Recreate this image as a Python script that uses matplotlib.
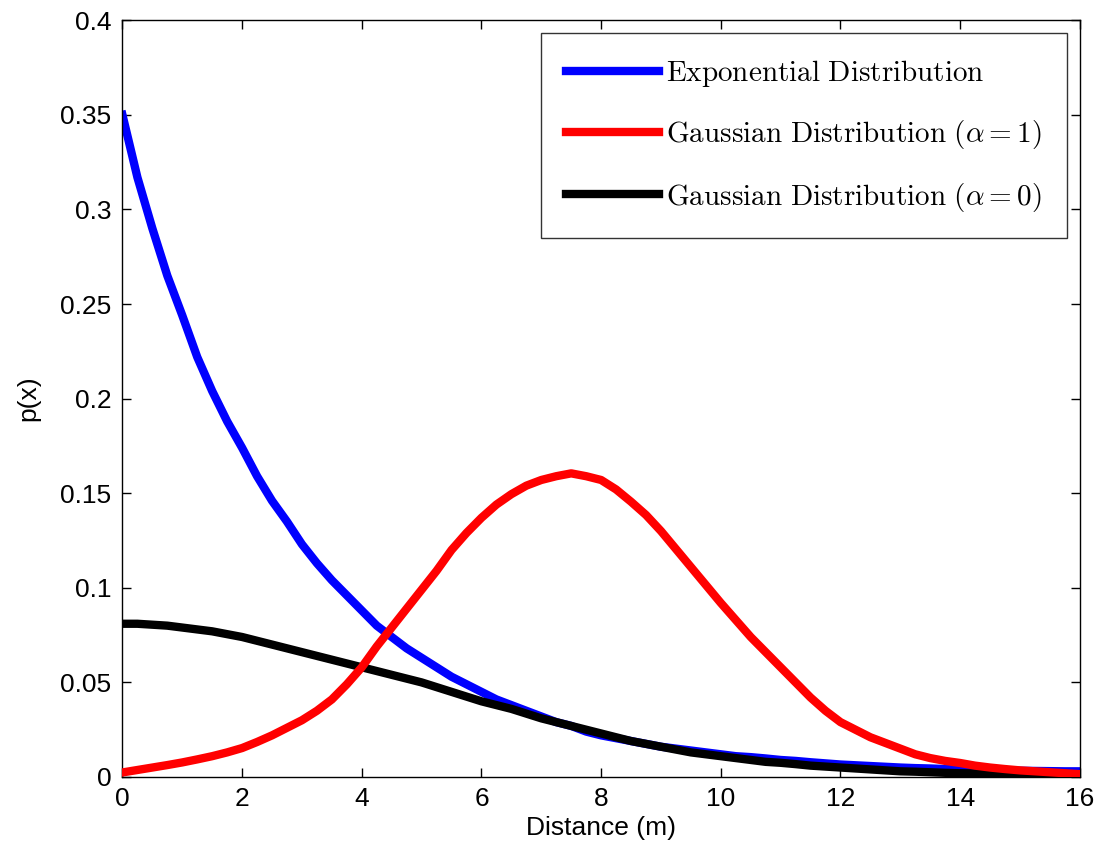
import numpy as np
import matplotlib
matplotlib.use("Agg")
import matplotlib.pyplot as plt

plt.rcParams['font.family'] = ['Liberation Sans', 'DejaVu Sans']
plt.rcParams['mathtext.fontset'] = 'cm'

# distance grid (m), 0.25 m steps
x = [0, 0.25, 0.5, 0.75, 1, 1.25, 1.5, 1.75, 2, 2.25, 2.5, 2.75, 3, 3.25, 3.5, 3.75,
     4, 4.25, 4.5, 4.75, 5, 5.25, 5.5, 5.75, 6, 6.25, 6.5, 6.75, 7, 7.25, 7.5, 7.75,
     8, 8.25, 8.5, 8.75, 9, 9.25, 9.5, 9.75, 10, 10.25, 10.5, 10.75, 11, 11.25, 11.5, 11.75,
     12, 12.25, 12.5, 12.75, 13, 13.25, 13.5, 13.75, 14, 14.25, 14.5, 14.75, 15, 15.25, 15.5, 15.75,
     16]

p_exp = [0.350, 0.317, 0.290, 0.265, 0.244, 0.222, 0.204, 0.188,
         0.174, 0.159, 0.146, 0.135, 0.123, 0.113, 0.104, 0.096,
         0.088, 0.080, 0.074, 0.068, 0.063, 0.058, 0.053, 0.049,
         0.045, 0.041, 0.038, 0.035, 0.032, 0.029, 0.027, 0.024,
         0.022, 0.0205, 0.019, 0.0175, 0.016, 0.015, 0.014, 0.013,
         0.012, 0.011, 0.0105, 0.0098, 0.009, 0.0085, 0.0078, 0.0072,
         0.0066, 0.0062, 0.0058, 0.0054, 0.005, 0.0047, 0.0045, 0.0042,
         0.004, 0.0038, 0.0036, 0.0034, 0.0033, 0.0032, 0.0031, 0.003,
         0.003]

p_gauss1 = [0.0024, 0.0037, 0.005, 0.0063, 0.0077, 0.0093, 0.011, 0.013,
            0.0153, 0.0185, 0.022, 0.026, 0.030, 0.035, 0.041, 0.049,
            0.058, 0.069, 0.079, 0.089, 0.099, 0.109, 0.120, 0.129,
            0.137, 0.144, 0.1495, 0.154, 0.157, 0.159, 0.1605, 0.159,
            0.157, 0.152, 0.1455, 0.1385, 0.130, 0.1205, 0.111, 0.1015,
            0.092, 0.083, 0.074, 0.066, 0.058, 0.050, 0.042, 0.035,
            0.029, 0.025, 0.021, 0.018, 0.015, 0.012, 0.010, 0.0085,
            0.0074, 0.006, 0.005, 0.0042, 0.0035, 0.003, 0.0025, 0.002,
            0.0015]

p_gauss0 = [0.081, 0.081, 0.0805, 0.080, 0.079, 0.078, 0.077, 0.0755,
            0.074, 0.072, 0.070, 0.068, 0.066, 0.064, 0.062, 0.060,
            0.058, 0.056, 0.054, 0.052, 0.050, 0.0475, 0.045, 0.0425,
            0.040, 0.038, 0.036, 0.0335, 0.031, 0.029, 0.027, 0.025,
            0.023, 0.021, 0.019, 0.0175, 0.016, 0.0145, 0.013, 0.012,
            0.011, 0.010, 0.009, 0.008, 0.0075, 0.0068, 0.006, 0.0055,
            0.005, 0.0045, 0.004, 0.0035, 0.003, 0.0028, 0.0025, 0.0022,
            0.002, 0.0019, 0.0018, 0.0016, 0.0015, 0.0013, 0.0012, 0.0011,
            0.001]

labels = [r'$\mathrm{Exponential\ Distribution}$',
          r'$\mathrm{Gaussian\ Distribution}\ (\alpha=1)$',
          r'$\mathrm{Gaussian\ Distribution}\ (\alpha=0)$']

fig = plt.figure(figsize=(11.03, 8.56), dpi=100)
ax = fig.add_axes([0.111, 0.0923, 0.868, 0.884])

lw = 6
ax.plot(x, p_exp, color='#0000ff', lw=lw, label=labels[0], zorder=2)
ax.plot(x, p_gauss1, color='#ff0000', lw=lw, label=labels[1], zorder=4)
ax.plot(x, p_gauss0, color='black', lw=lw, label=labels[2], zorder=3)

ax.set_xlim(0, 16)
ax.set_ylim(0, 0.4)
ax.set_xticks(np.arange(0, 17, 2))
ax.set_yticks(np.arange(0, 0.41, 0.05))
ax.set_yticklabels(['0', '0.05', '0.1', '0.15', '0.2', '0.25', '0.3', '0.35', '0.4'])
ax.tick_params(direction='in', length=6.5, width=1, top=True, right=True,
               labelsize=19)
ax.tick_params(axis='x', pad=7)
ax.tick_params(axis='y', pad=8)
for s in ax.spines.values():
    s.set_linewidth(1)

ax.set_xlabel('Distance (m)', fontsize=19, labelpad=4)
ax.set_ylabel('p(x)', fontsize=19, labelpad=14)

leg = ax.legend(loc='upper right', fontsize=21, frameon=True, fancybox=False,
                edgecolor='black', handlelength=3.2, handletextpad=0.25,
                labelspacing=1.0, borderpad=0.85, borderaxespad=0.45)
leg.get_frame().set_linewidth(1)

fig.savefig('out.png', dpi=100)
